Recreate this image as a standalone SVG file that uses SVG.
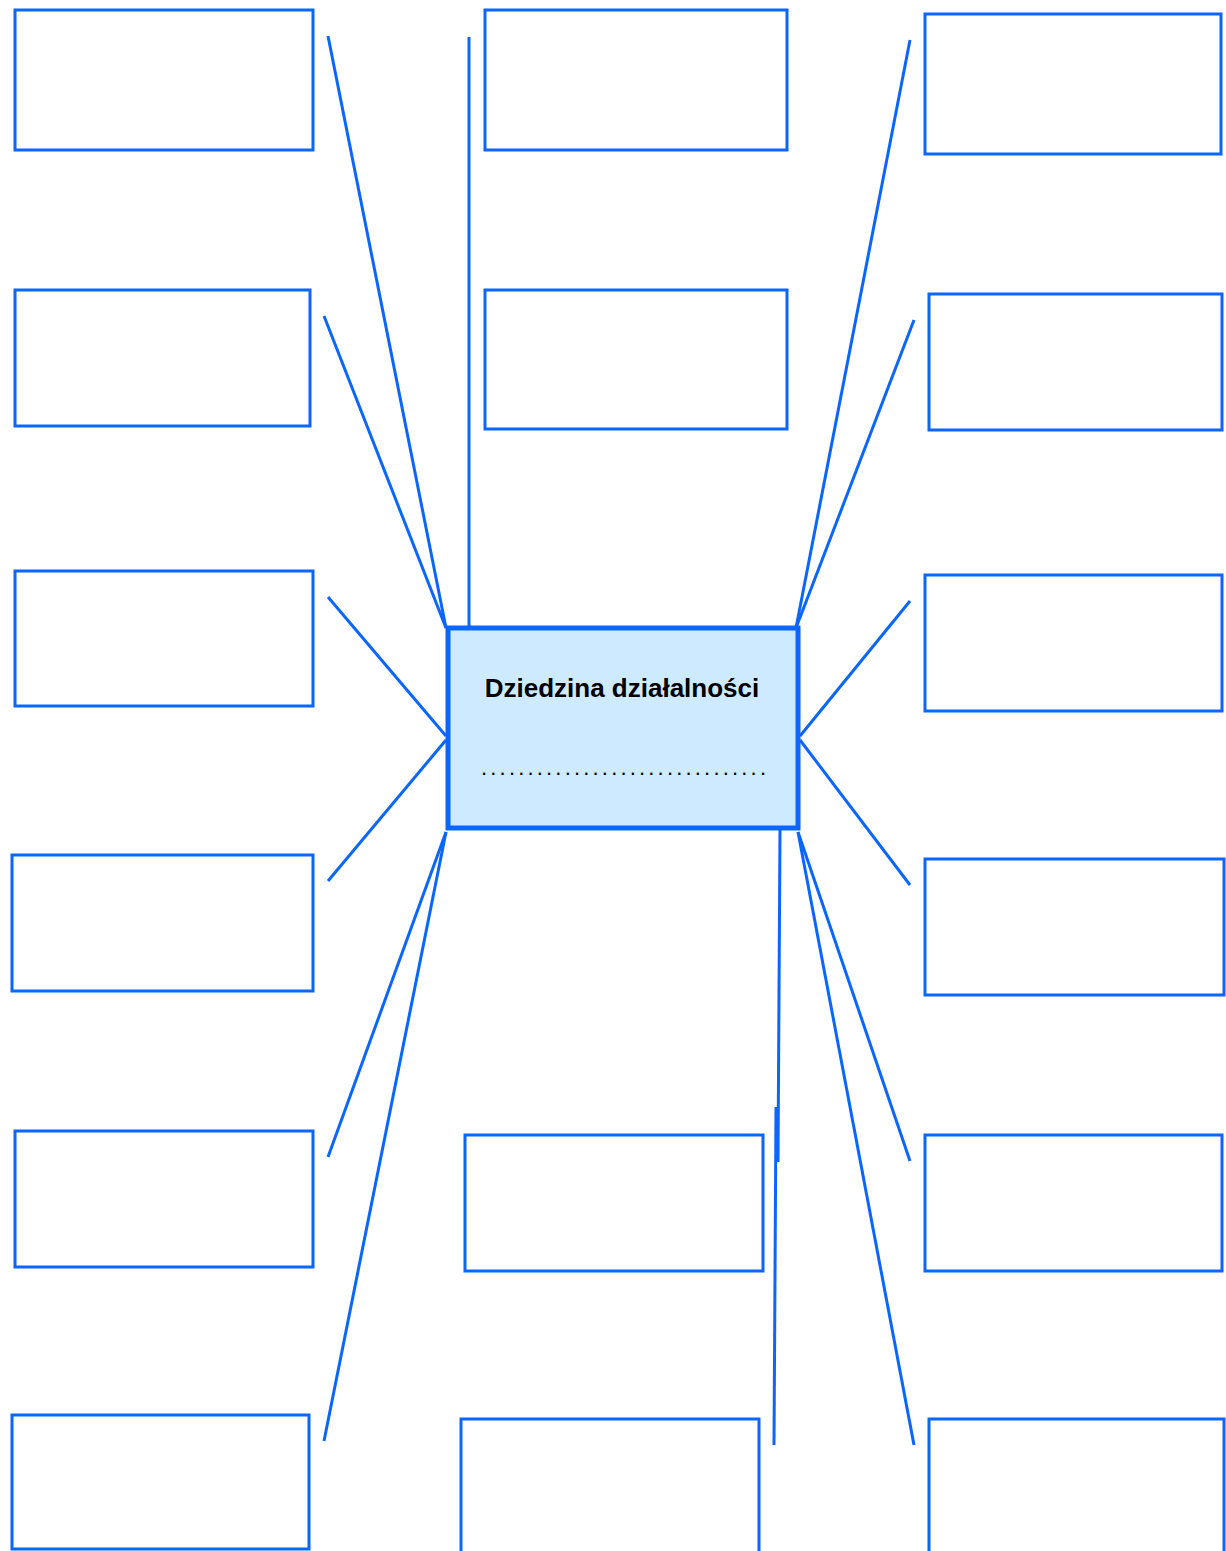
<svg xmlns="http://www.w3.org/2000/svg" width="1226" height="1551" viewBox="0 0 1226 1551">
<style>
.b{fill:#fff;stroke:#0a66ff;stroke-width:3}
.c{fill:#cdeafe;stroke:#0a66ff;stroke-width:5}
.l{stroke:#0a66ff;stroke-width:3;fill:none}
.t{font-family:"Liberation Sans",Arial,sans-serif;font-size:26px;font-weight:bold;fill:#000}
.d{font-family:"Liberation Sans",Arial,sans-serif;font-size:22px;fill:#000}
</style>
<rect width="1226" height="1551" fill="#fff"/>
<g id="connectors">
<line class="l" x1="328" y1="36" x2="446" y2="628"/>
<line class="l" x1="324" y1="316" x2="446" y2="628"/>
<line class="l" x1="328" y1="597" x2="446" y2="736"/>
<line class="l" x1="328" y1="881" x2="446" y2="740"/>
<line class="l" x1="328" y1="1157" x2="446" y2="832"/>
<line class="l" x1="324" y1="1441" x2="446" y2="832"/>
<line class="l" x1="469" y1="37" x2="469" y2="628"/>
<line class="l" x1="910" y1="40" x2="796" y2="628"/>
<line class="l" x1="914" y1="320" x2="796" y2="628"/>
<line class="l" x1="910" y1="601" x2="800" y2="736"/>
<line class="l" x1="910" y1="885" x2="800" y2="740"/>
<line class="l" x1="910" y1="1161" x2="798" y2="832"/>
<line class="l" x1="914" y1="1445" x2="798" y2="832"/>
<line class="l" x1="780" y1="828" x2="778" y2="1162"/>
<line class="l" x1="776" y1="1107" x2="774" y2="1445"/>
</g>
<g id="n-l1"><rect class="b" x="15" y="10" width="298" height="140"/></g>
<g id="n-l2"><rect class="b" x="15" y="290" width="295" height="136"/></g>
<g id="n-l3"><rect class="b" x="15" y="571" width="298" height="135"/></g>
<g id="n-l4"><rect class="b" x="12" y="855" width="301" height="136"/></g>
<g id="n-l5"><rect class="b" x="15" y="1131" width="298" height="136"/></g>
<g id="n-l6"><rect class="b" x="12" y="1415" width="297" height="134"/></g>
<g id="n-m1"><rect class="b" x="485" y="10" width="302" height="140"/></g>
<g id="n-m2"><rect class="b" x="485" y="290" width="302" height="139"/></g>
<g id="n-m3"><rect class="b" x="465" y="1135" width="298" height="136"/></g>
<g id="n-m4"><rect class="b" x="461" y="1419" width="298" height="150"/></g>
<g id="n-r1"><rect class="b" x="925" y="14" width="296" height="140"/></g>
<g id="n-r2"><rect class="b" x="929" y="294" width="293" height="136"/></g>
<g id="n-r3"><rect class="b" x="925" y="575" width="297" height="136"/></g>
<g id="n-r4"><rect class="b" x="925" y="859" width="299" height="136"/></g>
<g id="n-r5"><rect class="b" x="925" y="1135" width="297" height="136"/></g>
<g id="n-r6"><rect class="b" x="929" y="1419" width="295" height="150"/></g>
<g id="center">
<rect class="c" x="448" y="628" width="350" height="200"/>
<text class="t" x="622" y="697" text-anchor="middle">Dziedzina działalności</text>
<text class="d" x="481" y="775" textLength="285" lengthAdjust="spacing">...............................</text>
</g>
</svg>
